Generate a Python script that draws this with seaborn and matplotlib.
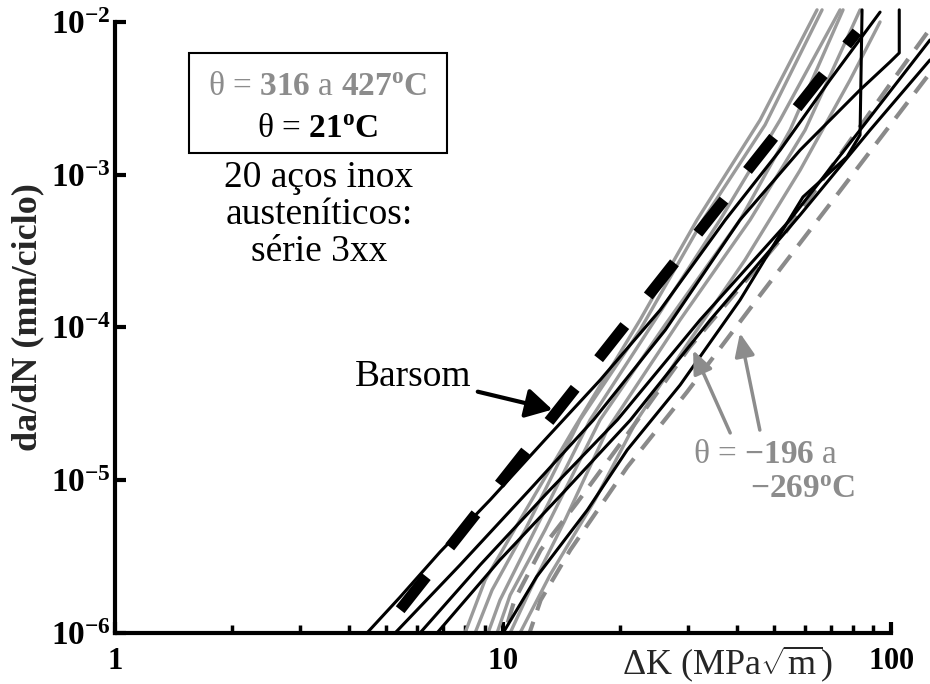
import matplotlib
matplotlib.use("Agg")
import matplotlib.pyplot as plt
import seaborn as sns
import numpy as np
from matplotlib.ticker import FixedLocator, NullFormatter, NullLocator, FuncFormatter
from matplotlib.patches import Rectangle

# ---------------- data (ΔK in MPa√m, da/dN in mm/ciclo) ----------------
barsom_dk = [5.43, 81.7]
barsom_dadn = [1.42e-6, 8.6e-3]

# θ = 21 ºC (black)
b1_dk = [4.46, 5.43, 6.88, 9.26, 12.8, 17.8, 25.4, 37.4, 51.8, 69.6, 93.7]
b1_dadn = [1.0e-6, 1.72e-6, 3.39e-6, 7.43e-6, 1.83e-5, 4.53e-5, 1.30e-4, 5.06e-4, 1.45e-3, 4.17e-3, 1.16e-2]
b2_dk = [5.27, 7.75, 11.7, 17.1, 26.2, 40.8, 58.3, 83.2, 99.4, 105, 105]
b2_dadn = [1.0e-6, 2.79e-6, 8.63e-6, 2.48e-5, 9.63e-5, 5.06e-4, 1.45e-3, 3.59e-3, 5.47e-3, 6.27e-3, 1.2e-2]
b3_dk = [6.11, 8.73, 13.2, 19.7, 32.2, 54.9, 83.2, 126]
b3_dadn = [1.0e-6, 2.79e-6, 8.63e-6, 2.48e-5, 1.12e-4, 5.06e-4, 1.96e-3, 7.62e-3]
b4_dk = [6.76, 9.82, 14.5, 21.3, 34.2, 58.3, 88.3, 126]
b4_dadn = [1.0e-6, 3.01e-6, 8.63e-6, 2.48e-5, 1.12e-4, 5.45e-4, 1.96e-3, 5.64e-3]
b5_dk = [10.0, 12.2, 16.5, 20.9, 28.6, 40.8, 59.3, 77.0, 83.2, 84.2]
b5_dadn = [1.0e-6, 2.33e-6, 6.39e-6, 1.58e-5, 4.20e-5, 1.51e-4, 7.15e-4, 1.31e-3, 1.82e-3, 1.2e-2]

# θ = 316 a 427 ºC (gray solid)
g1_dk = [7.98, 8.99, 11.06, 15.15, 22.55, 31.62, 45.97, 64.46]
g1_dadn = [1.0e-6, 2.22e-6, 5.49e-6, 2.13e-5, 1.12e-4, 5.06e-4, 2.28e-3, 1.2e-2]
g2_dk = [8.47, 9.37, 11.40, 15.79, 22.55, 32.77, 47.35, 66.41]
g2_dadn = [1.0e-6, 1.91e-6, 4.72e-6, 2.48e-5, 9.63e-5, 5.06e-4, 2.12e-3, 1.2e-2]
g3_dk = [9.15, 9.82, 12.09, 16.76, 24.65, 36.25, 51.76, 73.89]
g3_dadn = [1.0e-6, 1.64e-6, 4.72e-6, 2.48e-5, 1.12e-4, 5.06e-4, 2.28e-3, 1.2e-2]
g4_dk = [9.65, 10.43, 12.83, 17.78, 26.16, 40.82, 54.93, 75.21]
g4_dadn = [1.0e-6, 1.77e-6, 4.72e-6, 2.48e-5, 1.04e-4, 5.06e-4, 1.96e-3, 1.2e-2]
g5_dk = [10.43, 11.74, 14.45, 18.54, 28.59, 43.33, 60.05, 83.21]
g5_dadn = [1.0e-6, 1.91e-6, 5.49e-6, 2.13e-5, 1.12e-4, 5.06e-4, 1.96e-3, 1.2e-2]
g6_dk = [11.06, 13.22, 17.26, 22.15, 30.34, 42.05, 58.29, 78.42, 93.68]
g6_dadn = [1.0e-6, 2.40e-6, 7.43e-6, 2.48e-5, 8.28e-5, 2.77e-4, 1.07e-3, 4.17e-3, 1.0e-2]

# θ = −196 a −269 ºC (gray dashed)
d1_dk = [123.8, 70.9, 46.0, 29.8, 20.9, 14.9, 12.5, 11.7]
d1_dadn = [4.37e-3, 6.83e-4, 1.63e-4, 3.78e-5, 1.22e-5, 3.49e-6, 1.64e-6, 1.0e-6]
d2_dk = [123.8, 101.2, 73.9, 51.8, 30.3, 21.3, 15.5, 12.5, 10.7, 10.1]
d2_dadn = [8.47e-3, 4.17e-3, 1.35e-3, 3.74e-4, 7.45e-5, 2.13e-5, 7.10e-6, 3.49e-6, 1.64e-6, 1.0e-6]

x_major = [1, 10, 100]
x_minor = [2, 3, 4, 5, 6, 7, 8, 9, 20, 30, 40, 50, 60, 70, 80, 90]
y_major = [1e-6, 1e-5, 1e-4, 1e-3, 1e-2]

barsom_tip = (13.4, 2.9e-5)
cryo_tip1, cryo_tail1 = (30.9, 7.1e-5), (38.5, 2.04e-5)
cryo_tip2, cryo_tail2 = (40.8, 9.2e-5), (45.9, 2.13e-5)

box_line1 = r"θ = $\mathbf{316}$ a $\mathbf{427^{o}C}$"
box_line2 = r"θ = $\mathbf{21^{o}C}$"
steel_text = "20 aços inox\nausteníticos:\nsérie 3xx"
cryo_line1 = r"θ = $\mathbf{-196}$ a"
cryo_line2 = r"$\mathbf{-269^{o}C}$"

# ---------------- style ----------------
sns.set_theme(style="white")
plt.rcParams.update({
    "font.family": ["Liberation Serif", "DejaVu Serif"],
    "mathtext.fontset": "custom",
    "mathtext.rm": "Liberation Serif",
    "mathtext.bf": "Liberation Serif:bold",
    "mathtext.it": "Liberation Serif:italic",
    "mathtext.sf": "Liberation Serif",
    "text.color": "black",
    "axes.edgecolor": "black",
    "xtick.color": "black",
    "ytick.color": "black",
})

BLACK = "#000000"
GRAY = "#9a9a9a"
DGRAY = "#8a8a8a"
TGRAY = "#8c8c8c"

fig = plt.figure(figsize=(9.3, 6.84), dpi=100)
ax = fig.add_axes([0.1237, 0.0746, 0.8344, 0.8933])
ax.set_xscale("log")
ax.set_yscale("log")

gray_curves = [(g1_dk, g1_dadn), (g2_dk, g2_dadn), (g3_dk, g3_dadn),
               (g4_dk, g4_dadn), (g5_dk, g5_dadn), (g6_dk, g6_dadn)]
dashed_curves = [(d1_dk, d1_dadn), (d2_dk, d2_dadn)]
black_curves = [(b1_dk, b1_dadn), (b2_dk, b2_dadn), (b3_dk, b3_dadn),
                (b4_dk, b4_dadn), (b5_dk, b5_dadn)]

for xs, ys in gray_curves:
    sns.lineplot(x=xs, y=ys, ax=ax, sort=False, estimator=None, color=GRAY,
                 lw=2.4, clip_on=False, solid_joinstyle="round")
for xs, ys in dashed_curves:
    sns.lineplot(x=xs, y=ys, ax=ax, sort=False, estimator=None, color=DGRAY,
                 lw=3.0, clip_on=False)
    ax.lines[-1].set_dashes([4.8, 2.9])
    ax.lines[-1].set_dash_capstyle("butt")
for xs, ys in black_curves:
    sns.lineplot(x=xs, y=ys, ax=ax, sort=False, estimator=None, color=BLACK,
                 lw=2.2, clip_on=False, solid_joinstyle="round")
sns.lineplot(x=barsom_dk, y=barsom_dadn, ax=ax, sort=False, estimator=None,
             color=BLACK, lw=8, clip_on=False)
ax.lines[-1].set_dashes([3.8, 3.4])
ax.lines[-1].set_dash_capstyle("butt")

ax.set_xlim(1, 100)
ax.set_ylim(1e-6, 1e-2)

# spines
for s in ["top", "right"]:
    ax.spines[s].set_visible(False)
for s in ["left", "bottom"]:
    ax.spines[s].set_linewidth(3)
    ax.spines[s].set_color("black")

# ticks
ax.xaxis.set_major_locator(FixedLocator(x_major))
ax.xaxis.set_minor_locator(FixedLocator(x_minor))
ax.xaxis.set_major_formatter(FuncFormatter(lambda v, p: r"$\mathbf{%g}$" % v))
ax.xaxis.set_minor_formatter(NullFormatter())
ax.yaxis.set_major_locator(FixedLocator(y_major))
ax.yaxis.set_minor_locator(NullLocator())
ax.yaxis.set_major_formatter(FuncFormatter(
    lambda v, p: r"$\mathbf{10^{%d}}$" % int(round(np.log10(v)))))
ax.tick_params(axis="both", which="major", direction="in", length=8, width=3,
               bottom=True, left=True)
ax.tick_params(axis="x", which="minor", direction="in", length=6, width=2.5,
               bottom=True)
ax.tick_params(axis="x", which="major", labelsize=22, pad=10)
ax.tick_params(axis="y", which="major", labelsize=24, pad=3)

ax.set_ylabel("da/dN (mm/ciclo)", fontsize=26, fontweight="bold")
ax.yaxis.set_label_coords(-0.091, 0.517)
ax.set_xlabel(r"ΔK (MPa$\sqrt{\mathrm{m}}$)", fontsize=26)
ax.xaxis.set_label_coords(0.789, -0.018)

# legend-like box
ax.add_patch(Rectangle((0.0954, 0.7856), 0.3325, 0.1637, transform=ax.transAxes,
                       fill=False, edgecolor="black", lw=1.5, clip_on=False))
ax.text(0.2616, 0.8805, box_line1, transform=ax.transAxes, ha="center",
        va="baseline", fontsize=24, color=TGRAY)
ax.text(0.2616, 0.8118, box_line2, transform=ax.transAxes, ha="center",
        va="baseline", fontsize=24, color="black")

ax.text(0.2629, 0.684, steel_text, transform=ax.transAxes, ha="center",
        va="center", fontsize=27, linespacing=1.1, color="black")

# Barsom annotation
ax.annotate("Barsom", xy=barsom_tip, xytext=(-100, 24), textcoords="offset points",
            ha="center", va="center", fontsize=27,
            arrowprops=dict(arrowstyle="-|>,head_length=0.8,head_width=0.45",
                            color="black", lw=3, mutation_scale=20,
                            shrinkA=2, shrinkB=0))

# cryogenic annotation
for tip, tail in [(cryo_tip1, cryo_tail1), (cryo_tip2, cryo_tail2)]:
    ax.annotate("", xy=tip, xytext=tail,
                arrowprops=dict(arrowstyle="-|>,head_length=0.7,head_width=0.3",
                                color=TGRAY, lw=2.5, mutation_scale=20,
                                shrinkA=0, shrinkB=0))
ax.text(30.9, 1.30e-5, cryo_line1, ha="left", va="baseline",
        fontsize=24, color=TGRAY)
ax.text(43.3, 7.65e-6, cryo_line2, ha="left", va="baseline",
        fontsize=24, color=TGRAY)

fig.savefig("out.png", dpi=100, facecolor="white")
